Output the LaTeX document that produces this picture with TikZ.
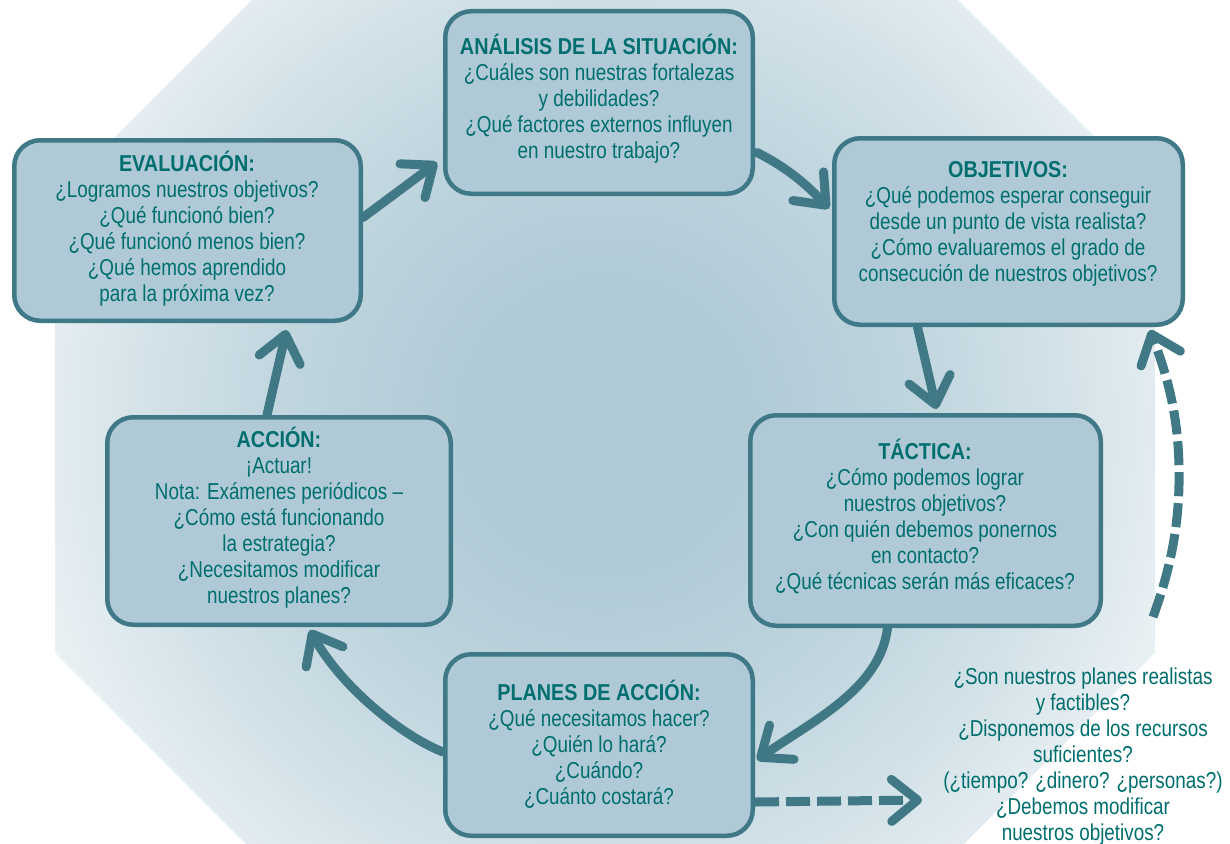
\documentclass[tikz,border=0pt]{standalone}
\usepackage{fontspec}
\setmainfont{Liberation Sans}[FakeStretch=0.82, BoldFeatures={FakeStretch=0.86}]
\usetikzlibrary{arrows.meta}
\definecolor{boxfill}{HTML}{AFCAD6}
\definecolor{boxline}{HTML}{3F7886}
\definecolor{txt}{HTML}{006E6E}
\definecolor{arr}{HTML}{407886}
\colorlet{bgA}{boxfill}
\colorlet{bgB}{boxfill!82!white}
\colorlet{bgC}{boxfill!56!white}
\colorlet{bgD}{boxfill!26!white}
\pgfdeclareradialshading{bgshade}{\pgfpoint{0bp}{0bp}}{color(0bp)=(bgA); color(5.5bp)=(bgA); color(12.5bp)=(bgB); color(19bp)=(bgC); color(25bp)=(bgD); color(50bp)=(bgD)}
\pgfdeclarelayer{bg}
\pgfdeclarelayer{mid}
\pgfsetlayers{bg,mid,main}
\tikzset{
  box/.style={draw=boxline, line width=4.5pt, fill=boxfill, rounded corners=26pt, inner sep=0pt},
  lbl/.style={text=txt, align=center, inner sep=0pt, font=\fontsize{23}{26}\selectfont},
  flow/.style={draw=arr, line width=9pt, line cap=round, -{Straight Barb[length=26pt,width=42pt,round]}},
  dflow/.style={flow, line cap=butt, dash pattern=on 24pt off 7pt}
}
\begin{document}
\begin{tikzpicture}[x=1pt,y=-1pt]
\useasboundingbox (0,0) rectangle (1230,843);
\begin{pgfonlayer}{bg}
  \fill[white] (0,0) rectangle (1230,843);
  \begin{scope}
    \clip (0,0) rectangle (1230,843);
    \begin{scope}[shift={(605,425)}]
      \clip (22.5:595.3) -- (67.5:595.3) -- (112.5:595.3) -- (157.5:595.3) -- (202.5:595.3) -- (247.5:595.3) -- (292.5:595.3) -- (337.5:595.3) -- cycle;
      \shade[shading=bgshade] (-595.3,-595.3) rectangle (595.3,595.3);
    \end{scope}
  \end{scope}
\end{pgfonlayer}

% boxes
\node[box, minimum width=307.5pt, minimum height=182.5pt] (ana) at (599,102.5) {};
\node[box, minimum width=348.5pt, minimum height=186.5pt] (obj) at (1008.5,231.5) {};
\node[box, minimum width=346.5pt, minimum height=180.5pt] (eva) at (187.5,230.5) {};
\node[box, minimum width=343.5pt, minimum height=207.5pt] (acc) at (279,521) {};
\node[box, minimum width=350.5pt, minimum height=210.5pt] (tac) at (925.5,520.5) {};
\node[box, minimum width=307.5pt, minimum height=181.5pt] (pla) at (599,745) {};

% texts
\node[lbl] (anat) at (599,99) {\textbf{ANÁLISIS DE LA SITUACIÓN:}\\¿Cuáles son nuestras fortalezas\\y debilidades?\\¿Qué factores externos influyen\\en nuestro trabajo?};
\node[lbl] (objt) at (1008,224) {\textbf{OBJETIVOS:}\\¿Qué podemos esperar conseguir\\desde un punto de vista realista?\\¿Cómo evaluaremos el grado de\\consecución de nuestros objetivos?};
\node[lbl] (evat) at (187,229) {\textbf{EVALUACIÓN:}\\¿Logramos nuestros objetivos?\\¿Qué funcionó bien?\\¿Qué funcionó menos bien?\\¿Qué hemos aprendido\\para la próxima vez?};
\node[lbl] (acct) at (279,517.5) {\textbf{ACCIÓN:}\\¡Actuar!\\Nota: Exámenes periódicos –\\¿Cómo está funcionando\\la estrategia?\\¿Necesitamos modificar\\nuestros planes?};
\node[lbl] (tact) at (925,516.5) {\textbf{TÁCTICA:}\\¿Cómo podemos lograr\\nuestros objetivos?\\¿Con quién debemos ponernos\\en contacto?\\¿Qué técnicas serán más eficaces?};
\node[lbl] (plat) at (599,744.5) {\textbf{PLANES DE ACCIÓN:}\\¿Qué necesitamos hacer?\\¿Quién lo hará?\\¿Cuándo?\\¿Cuánto costará?};
\node[lbl] (note) at (1083,756.5) {¿Son nuestros planes realistas\\y factibles?\\¿Disponemos de los recursos\\suficientes?\\(¿tiempo? ¿dinero? ¿personas?)\\¿Debemos modificar\\nuestros objetivos?};

% connectors
\begin{pgfonlayer}{mid}
\draw[flow] ([yshift=13pt]eva.east) -- ([xshift=-6pt,yshift=-60pt]ana.west);
\draw[flow] ([xshift=2pt,yshift=-50pt]ana.east) .. controls (788,168) and (808,186) .. ([xshift=-3pt,yshift=23pt]obj.west);
\draw[flow] ([xshift=-91pt]obj.south) -- ([xshift=11pt,yshift=4pt]tac.north);
\draw[flow] ([xshift=-38pt]tac.south) .. controls (880,690) and (810,722) .. ([xshift=2pt,yshift=-15pt]pla.east);
\draw[flow] ([yshift=-7pt]pla.west) .. controls (400,735) and (340,685) .. ([xshift=31pt,yshift=-3pt]acc.south);
\draw[flow] ([xshift=-12pt]acc.north) -- ([xshift=99pt,yshift=-7pt]eva.south);
\coordinate (d1) at (922,800);
\draw[dflow] ([yshift=-57pt]pla.east) -- (d1);
\coordinate (d2) at (1153,617);
\draw[dflow] (d2) .. controls (1172,565) and (1180,520) .. (1179,467) .. controls (1178,410) and (1165,370) .. ([xshift=-35pt,yshift=-3pt]obj.south east);
\end{pgfonlayer}
\end{tikzpicture}
\end{document}
